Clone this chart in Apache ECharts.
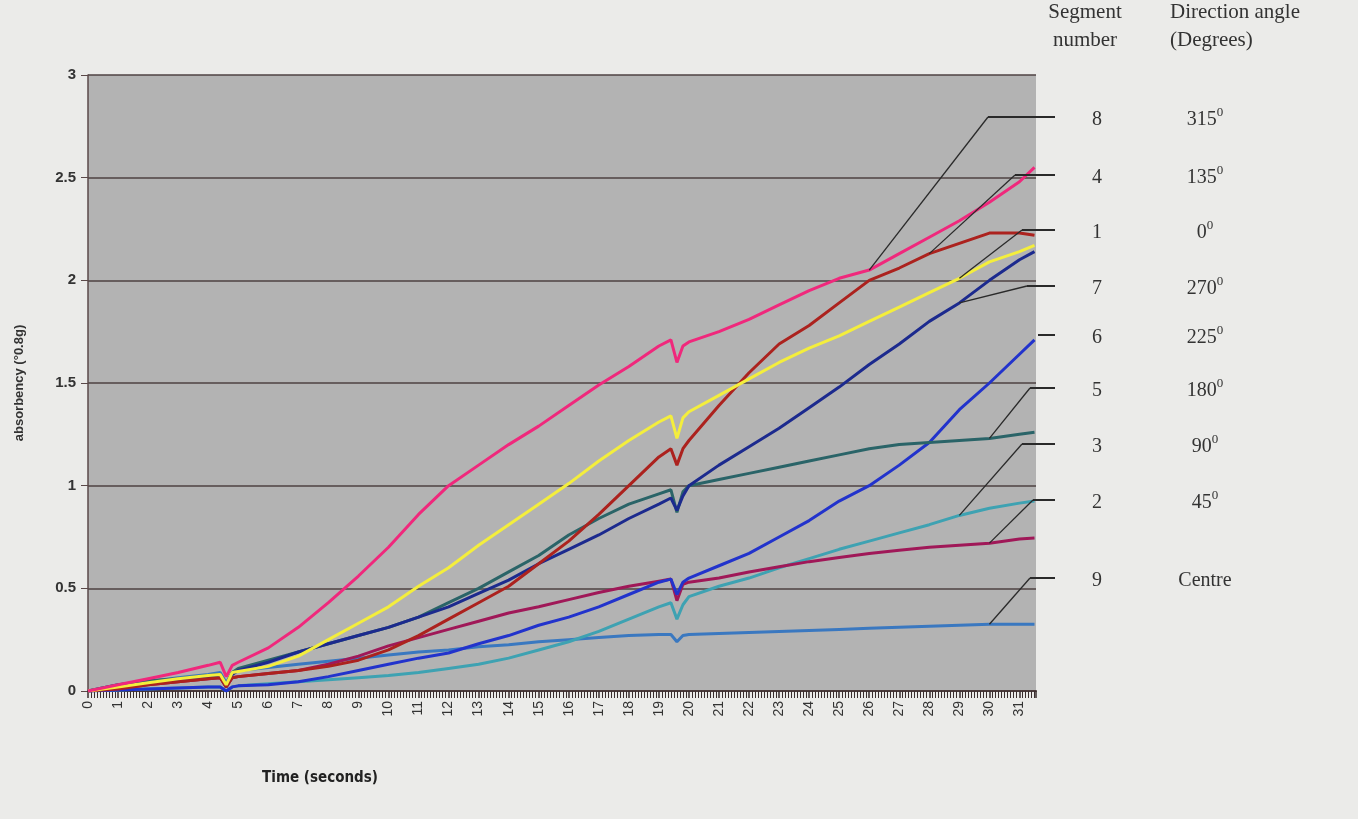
<!DOCTYPE html>
<html>
<head>
<meta charset="utf-8">
<script src="https://cdn.jsdelivr.net/npm/echarts@6/dist/echarts.min.js"></script>
<style>
  html, body { margin: 0; padding: 0; background: #ebebe9; }
  #chart { width: 1358px; height: 819px; }
</style>
</head>
<body>
<div id="chart"></div>
<script>
// time in seconds (with the two dips at ~4.5 s and ~19.5 s)
var times = [0, 1, 2, 3, 4, 4.4, 4.6, 4.8, 5, 6, 7, 8, 9, 10, 11, 12, 13, 14, 15, 16, 17, 18, 19,
             19.4, 19.6, 19.8, 20, 21, 22, 23, 24, 25, 26, 27, 28, 29, 30, 31, 31.5];

var seg8 = [0, 0.03, 0.06, 0.09, 0.125, 0.14, 0.07, 0.125, 0.14, 0.21, 0.31, 0.43, 0.56, 0.70, 0.86, 1.00, 1.10, 1.20, 1.29, 1.39, 1.49, 1.58, 1.68,
            1.71, 1.60, 1.68, 1.70, 1.75, 1.81, 1.88, 1.95, 2.01, 2.05, 2.13, 2.21, 2.29, 2.38, 2.48, 2.55];
var seg4 = [0, 0.01, 0.03, 0.045, 0.06, 0.065, 0.02, 0.065, 0.07, 0.085, 0.10, 0.12, 0.15, 0.20, 0.27, 0.35, 0.43, 0.51, 0.62, 0.73, 0.86, 1.00, 1.14,
            1.18, 1.10, 1.18, 1.22, 1.39, 1.55, 1.69, 1.78, 1.89, 2.00, 2.06, 2.13, 2.18, 2.23, 2.23, 2.22];
var seg1 = [0, 0.02, 0.04, 0.06, 0.075, 0.08, 0.03, 0.09, 0.095, 0.12, 0.17, 0.25, 0.33, 0.41, 0.51, 0.60, 0.71, 0.81, 0.91, 1.01, 1.12, 1.22, 1.31,
            1.34, 1.23, 1.33, 1.36, 1.44, 1.52, 1.60, 1.67, 1.73, 1.80, 1.87, 1.94, 2.01, 2.09, 2.14, 2.17];
var seg7 = [0, 0.02, 0.04, 0.05, 0.065, 0.07, 0.02, 0.08, 0.10, 0.14, 0.19, 0.23, 0.27, 0.31, 0.36, 0.41, 0.475, 0.54, 0.62, 0.69, 0.76, 0.84, 0.91,
            0.94, 0.88, 0.95, 1.00, 1.10, 1.19, 1.28, 1.38, 1.48, 1.59, 1.69, 1.80, 1.89, 2.00, 2.10, 2.14];
var seg6 = [0, 0.005, 0.01, 0.015, 0.02, 0.02, 0, 0.02, 0.025, 0.03, 0.045, 0.07, 0.10, 0.13, 0.16, 0.185, 0.23, 0.27, 0.32, 0.36, 0.41, 0.47, 0.53,
            0.545, 0.47, 0.53, 0.55, 0.61, 0.67, 0.75, 0.83, 0.925, 1.00, 1.10, 1.21, 1.37, 1.50, 1.64, 1.71];
var seg5 = [0, 0.03, 0.05, 0.06, 0.075, 0.08, 0.03, 0.09, 0.11, 0.15, 0.19, 0.23, 0.27, 0.31, 0.36, 0.43, 0.50, 0.58, 0.66, 0.76, 0.84, 0.91, 0.96,
            0.98, 0.87, 0.97, 1.00, 1.03, 1.06, 1.09, 1.12, 1.15, 1.18, 1.20, 1.21, 1.22, 1.23, 1.25, 1.26];
var seg3 = [0, 0.005, 0.01, 0.015, 0.02, 0.02, 0, 0.02, 0.025, 0.035, 0.045, 0.055, 0.065, 0.075, 0.09, 0.11, 0.13, 0.16, 0.20, 0.24, 0.29, 0.35, 0.41,
            0.43, 0.35, 0.42, 0.46, 0.51, 0.55, 0.60, 0.645, 0.69, 0.73, 0.77, 0.81, 0.855, 0.89, 0.915, 0.925];
var seg2 = [0, 0.01, 0.03, 0.045, 0.06, 0.065, 0.02, 0.065, 0.07, 0.085, 0.10, 0.13, 0.17, 0.22, 0.26, 0.30, 0.34, 0.38, 0.41, 0.445, 0.48, 0.51, 0.535,
            0.545, 0.44, 0.52, 0.53, 0.55, 0.58, 0.605, 0.63, 0.65, 0.67, 0.685, 0.70, 0.71, 0.72, 0.74, 0.745];
var seg9 = [0, 0.03, 0.045, 0.065, 0.08, 0.09, 0.04, 0.09, 0.10, 0.115, 0.13, 0.145, 0.16, 0.175, 0.19, 0.20, 0.215, 0.225, 0.24, 0.25, 0.26, 0.27, 0.275,
            0.275, 0.24, 0.27, 0.275, 0.28, 0.285, 0.29, 0.295, 0.30, 0.305, 0.31, 0.315, 0.32, 0.325, 0.325, 0.325];

// right hand key: segment number, direction angle, and where its leader touches the curve (time)
var keySegments = ['8', '4', '1', '7', '6', '5', '3', '2', '9'];
var keyAngles = ['315', '135', '0', '270', '225', '180', '90', '45', 'Centre'];
var keyTimes = [26, 28, 29, 29, null, 30, 29, 30, 30];

var segData = {'8': seg8, '4': seg4, '1': seg1, '7': seg7, '6': seg6, '5': seg5, '3': seg3, '2': seg2, '9': seg9};
var segColor = {
    '8': '#f0287c', '4': '#ac221e', '1': '#f4ee3c', '7': '#1c2a8e', '6': '#2233cc',
    '5': '#2a6468', '3': '#3ea2b2', '2': '#a01858', '9': '#3a78c0'
};
// drawing order, back to front
var drawOrder = ['9', '3', '2', '6', '5', '7', '4', '1', '8'];

function pairs(vals) {
    var res = [];
    for (var i = 0; i < times.length; i++) {
        res.push([times[i], vals[i]]);
    }
    return res;
}

var chart = echarts.init(document.getElementById('chart'));

var series = drawOrder.map(function (s) {
    return {
        name: 'Segment ' + s,
        type: 'line',
        data: pairs(segData[s]),
        showSymbol: false,
        lineStyle: { color: segColor[s], width: 3 },
        itemStyle: { color: segColor[s] }
    };
});

var option = {
    animation: false,
    backgroundColor: '#ebebe9',
    grid: {
        left: 88, right: 322, top: 75, bottom: 128,
        show: true,
        backgroundColor: '#b3b3b3',
        borderWidth: 0
    },
    xAxis: {
        type: 'value',
        min: 0,
        max: 31.55,
        interval: 1,
        axisLine: { show: true, lineStyle: { color: '#4a3a3a', width: 2 } },
        axisTick: { show: true, length: 7, lineStyle: { color: '#3a2e2e', width: 1.5 } },
        minorTick: { show: true, splitNumber: 10, length: 7, lineStyle: { color: '#3a2e2e' } },
        splitLine: { show: false },
        axisLabel: {
            rotate: 90,
            showMaxLabel: false,
            color: '#333',
            fontFamily: '"Liberation Sans", Arial, sans-serif',
            fontSize: 14,
            margin: 10
        }
    },
    yAxis: {
        type: 'value',
        min: 0,
        max: 3,
        interval: 0.5,
        name: 'absorbency (°0.8g)',
        nameLocation: 'middle',
        nameGap: 62,
        nameTextStyle: {
            color: '#333',
            fontFamily: '"Liberation Sans", Arial, sans-serif',
            fontSize: 13,
            fontWeight: 'bold'
        },
        axisLine: { show: true, lineStyle: { color: '#5a4848', width: 1.5 } },
        axisTick: { show: true, length: 7, lineStyle: { color: '#5a4848' } },
        splitLine: { show: true, lineStyle: { color: '#4e4242', width: 1.5 } },
        axisLabel: {
            color: '#333',
            fontFamily: '"Liberation Sans", Arial, sans-serif',
            fontSize: 15,
            fontWeight: 'bold',
            margin: 12
        }
    },
    series: series
};

chart.setOption(option);

// key on the right and leader lines
var rowY = [117, 175, 230, 286, 335, 388, 444, 500, 578];
var elbowX = [988, 1015, 1022, 1027, 1038, 1030, 1022, 1033, 1030];
var serif = '"Liberation Serif", "Times New Roman", serif';
var ink = '#333';

var graphics = [
    { type: 'text', style: { text: 'Segment', x: 1085, y: 12, align: 'center', verticalAlign: 'middle', fontSize: 21, fontFamily: serif, fill: ink } },
    { type: 'text', style: { text: 'number', x: 1085, y: 40, align: 'center', verticalAlign: 'middle', fontSize: 21, fontFamily: serif, fill: ink } },
    { type: 'text', style: { text: 'Direction angle', x: 1170, y: 12, align: 'left', verticalAlign: 'middle', fontSize: 21, fontFamily: serif, fill: ink } },
    { type: 'text', style: { text: '(Degrees)', x: 1170, y: 40, align: 'left', verticalAlign: 'middle', fontSize: 21, fontFamily: serif, fill: ink } },
    { type: 'text', style: {
        text: 'Time (seconds)', x: 320, y: 778, align: 'center', verticalAlign: 'middle',
        fontSize: 15, fontWeight: 'bold', fontFamily: '"Liberation Sans Narrow", "DejaVu Sans Condensed", sans-serif', fill: '#222'
    } }
];

keySegments.forEach(function (s, i) {
    var y = rowY[i];
    graphics.push({ type: 'text', style: { text: s, x: 1097, y: y + 3, align: 'center', verticalAlign: 'middle', fontSize: 20, fontFamily: serif, fill: ink } });
    var label = keyAngles[i] === 'Centre' ? 'Centre' : keyAngles[i] + '{sup|0}';
    graphics.push({ type: 'text', style: {
        text: label, x: 1205, y: y + 3, align: 'center', verticalAlign: 'middle',
        fontSize: 20, fontFamily: serif, fill: ink,
        rich: { sup: { fontSize: 13, fontFamily: serif, fill: ink, padding: [0, 0, 14, 0] } }
    } });
    graphics.push({ type: 'line', shape: { x1: elbowX[i], y1: y, x2: 1055, y2: y }, style: { stroke: '#2a2a2a', lineWidth: 2 }, z: 10 });
    if (keyTimes[i] !== null) {
        var idx = times.indexOf(keyTimes[i]);
        var p = chart.convertToPixel({ gridIndex: 0 }, [times[idx], segData[s][idx]]);
        graphics.push({ type: 'line', shape: { x1: elbowX[i], y1: y, x2: p[0], y2: p[1] }, style: { stroke: '#2a2a2a', lineWidth: 1.3 }, z: 10 });
    }
});

chart.setOption({ graphic: graphics });
</script>
</body>
</html>
